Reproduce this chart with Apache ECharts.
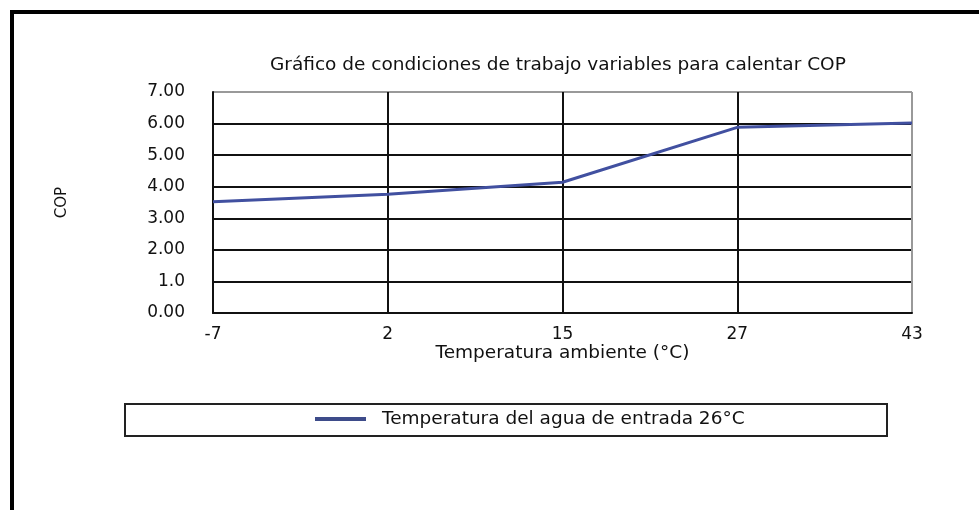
<!DOCTYPE html>
<html>
<head>
<meta charset="utf-8">
<script src="https://cdn.jsdelivr.net/npm/echarts@6/dist/echarts.min.js"></script>
<style>
  html, body { margin: 0; padding: 0; background: #fff; }
  #chart { width: 979px; height: 510px; }
</style>
</head>
<body>
<div id="chart"></div>
<script>
// categorías del eje X (temperatura ambiente)
var categories = ['-7', '2', '15', '27', '43'];
// COP
var copValues = [3.52, 3.76, 4.14, 5.88, 6.02];
// etiquetas del eje Y tal como aparecen
var yTickLabels = ['0.00', '1.0', '2.00', '3.00', '4.00', '5.00', '6.00', '7.00'];
var seriesName = 'Temperatura del agua de entrada 26°C';

var font = '"DejaVu Sans", Verdana, sans-serif';
var lineColor = '#4150a0';

var myChart = echarts.init(document.getElementById('chart'));
var option = {
  backgroundColor: '#fff',
  animation: false,
  title: {
    text: 'Gráfico de condiciones de trabajo variables para calentar COP',
    left: 270,
    top: 56,
    padding: 0,
    textStyle: { fontFamily: font, fontSize: 18.5, fontWeight: 'normal', color: '#111' }
  },
  grid: { left: 213, right: 67, top: 92, bottom: 197 },
  legend: {
    data: [seriesName],
    left: 315,
    top: 409,
    padding: 0,
    icon: 'rect',
    itemWidth: 51,
    itemHeight: 4,
    textStyle: { fontFamily: font, fontSize: 18.5, color: '#111', lineHeight: 20, padding: [0, 0, 0, 11] }
  },
  xAxis: {
    type: 'category',
    data: categories,
    boundaryGap: false,
    name: 'Temperatura ambiente (°C)',
    nameLocation: 'middle',
    nameGap: 31,
    nameTextStyle: { fontFamily: font, fontSize: 18.5, color: '#111' },
    axisLine: { lineStyle: { color: '#111', width: 2 } },
    axisTick: { show: false },
    axisLabel: { margin: 13, fontFamily: font, fontSize: 17, color: '#111' },
    splitLine: {
      show: true,
      lineStyle: { color: ['#111', '#111', '#111', '#111', '#999'], width: 2 }
    }
  },
  yAxis: {
    type: 'value',
    min: 0,
    max: 7,
    interval: 1,
    name: 'COP',
    nameLocation: 'middle',
    nameRotate: 90,
    nameGap: 143,
    nameTextStyle: { fontFamily: font, fontSize: 15, color: '#111' },
    axisLine: { show: true, lineStyle: { color: '#111', width: 2 } },
    axisTick: { show: false },
    axisLabel: {
      margin: 28,
      fontFamily: font,
      fontSize: 17,
      color: '#111',
      formatter: function (v) { return yTickLabels[Math.round(v)]; }
    },
    splitLine: {
      lineStyle: { color: ['#111', '#111', '#111', '#111', '#111', '#111', '#111', '#999'], width: 2 }
    }
  },
  graphic: [
    // marco exterior
    { type: 'rect', shape: { x: 10, y: 10, width: 969, height: 4 }, style: { fill: '#000' } },
    { type: 'rect', shape: { x: 10, y: 10, width: 4, height: 500 }, style: { fill: '#000' } },
    // caja de la leyenda
    { type: 'rect', z: -1, shape: { x: 125, y: 404, width: 762, height: 32 }, style: { fill: '#fff', stroke: '#222', lineWidth: 2 } }
  ],
  series: [
    {
      name: seriesName,
      type: 'line',
      data: copValues,
      symbol: 'none',
      lineStyle: { color: lineColor, width: 3 },
      itemStyle: { color: '#3e4c8a' }
    }
  ]
};
option && myChart.setOption(option);
</script>
</body>
</html>
